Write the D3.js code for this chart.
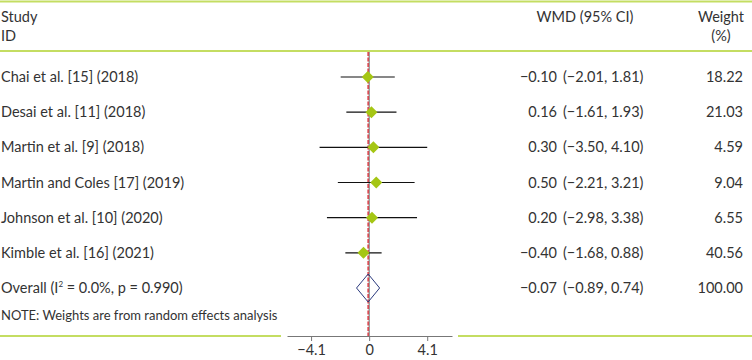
<!DOCTYPE html>
<html>
<head>
<meta charset="utf-8">
<script src="https://cdn.jsdelivr.net/npm/d3@7"></script>
<style>
  body { margin: 0; background: #fff; }
  text { font-family: Lato, "Noto Sans", sans-serif; fill: #333; }
</style>
</head>
<body>
<div id="chart"></div>
<script>
// forest plot data
const studies = [
  'Chai et al. [15] (2018)',
  'Desai et al. [11] (2018)',
  'Martin et al. [9] (2018)',
  'Martin and Coles [17] (2019)',
  'Johnson et al. [10] (2020)',
  'Kimble et al. [16] (2021)'
];
const wmd    = [-0.10, 0.16, 0.30, 0.50, 0.20, -0.40];
const lower  = [-2.01, -1.61, -3.50, -2.21, -2.98, -1.68];
const upper  = [ 1.81,  1.93,  4.10,  3.21,  3.38,  0.88];
const weights = [18.22, 21.03, 4.59, 9.04, 6.55, 40.56];
const overall = { wmd: -0.07, lower: -0.89, upper: 0.74, weight: 100.00 };
const ticks = [-4.1, 0, 4.1];

const width = 752, height = 360;
const green = '#c4dd62';

const svg = d3.select('#chart').append('svg')
    .attr('width', width).attr('height', height);

const x = d3.scaleLinear().domain([-5.8, 5.85]).range([287, 452]);
const y = d3.scalePoint().domain(d3.range(studies.length + 1)).range([77, 288]);
const axisY = 336;

// header lines
svg.append('line').attr('x1', 0).attr('x2', width).attr('y1', 1.5).attr('y2', 1.5)
  .attr('stroke', green).attr('stroke-width', 2);
svg.append('line').attr('x1', 0).attr('x2', width).attr('y1', 51).attr('y2', 51)
  .attr('stroke', green).attr('stroke-width', 2);
svg.append('line').attr('x1', 0).attr('x2', 281).attr('y1', axisY).attr('y2', axisY)
  .attr('stroke', green).attr('stroke-width', 2);
svg.append('line').attr('x1', 458).attr('x2', width).attr('y1', axisY).attr('y2', axisY)
  .attr('stroke', green).attr('stroke-width', 2);

// headers
const fs = 14.5;
svg.append('text').attr('x', 1).attr('y', 22).attr('font-size', fs).text('Study');
svg.append('text').attr('x', 1).attr('y', 41).attr('font-size', fs).text('ID');
svg.append('text').attr('x', 585).attr('y', 22).attr('font-size', fs)
  .attr('text-anchor', 'middle').text('WMD (95% CI)');
svg.append('text').attr('x', 721).attr('y', 22).attr('font-size', fs)
  .attr('text-anchor', 'middle').text('Weight');
svg.append('text').attr('x', 721).attr('y', 41).attr('font-size', fs)
  .attr('text-anchor', 'middle').text('(%)');

// null line and overall line
svg.append('line').attr('x1', x(0)).attr('x2', x(0)).attr('y1', 52).attr('y2', axisY)
  .attr('stroke', '#666').attr('stroke-width', 1);
svg.append('line').attr('x1', x(overall.wmd)).attr('x2', x(overall.wmd)).attr('y1', 52).attr('y2', axisY)
  .attr('stroke', '#d9474f').attr('stroke-width', 1.6).attr('stroke-dasharray', '4,1.5');

const fmt = d3.format('.2f');
const minus = s => s.replace(/-/g, '\u2212');

// study rows
const rows = svg.append('g').selectAll('g')
  .data(studies)
  .enter().append('g');

rows.append('text')
  .attr('x', 1).attr('y', (d, i) => y(i) + 5)
  .attr('font-size', fs).text(d => d);

rows.append('line')
  .attr('x1', (d, i) => x(lower[i])).attr('x2', (d, i) => x(upper[i]))
  .attr('y1', (d, i) => y(i)).attr('y2', (d, i) => y(i))
  .attr('stroke', '#111').attr('stroke-width', 1.2);

rows.append('path')
  .attr('d', (d, i) => {
    const cx = x(wmd[i]), cy = y(i), r = 6;
    return `M${cx - r},${cy}L${cx},${cy - r}L${cx + r},${cy}L${cx},${cy + r}Z`;
  })
  .attr('fill', '#a5c614');

rows.append('text')
  .attr('x', 557).attr('y', (d, i) => y(i) + 5)
  .attr('font-size', fs).attr('text-anchor', 'end')
  .text((d, i) => minus(fmt(wmd[i])));
rows.append('text')
  .attr('x', 563).attr('y', (d, i) => y(i) + 5)
  .attr('font-size', fs)
  .text((d, i) => minus(`(${fmt(lower[i])}, ${fmt(upper[i])})`));
rows.append('text')
  .attr('x', 743).attr('y', (d, i) => y(i) + 5)
  .attr('font-size', fs).attr('text-anchor', 'end')
  .text((d, i) => fmt(weights[i]));

// overall row
const oy = y(studies.length);
const ot = svg.append('text').attr('x', 1).attr('y', oy + 5).attr('font-size', fs);
ot.append('tspan').text('Overall (I');
ot.append('tspan').attr('font-size', 8).attr('dy', -6).text('2');
ot.append('tspan').attr('dy', 6).text(' = 0.0%, p = 0.990)');

svg.append('path')
  .attr('d', `M${x(overall.lower)},${oy}L${x(overall.wmd)},${oy - 14}L${x(overall.upper)},${oy}L${x(overall.wmd)},${oy + 14}Z`)
  .attr('fill', 'none').attr('stroke', '#2b3a7e').attr('stroke-width', 1);

svg.append('text').attr('x', 557).attr('y', oy + 5).attr('font-size', fs)
  .attr('text-anchor', 'end').text(minus(fmt(overall.wmd)));
svg.append('text').attr('x', 563).attr('y', oy + 5).attr('font-size', fs)
  .text(minus(`(${fmt(overall.lower)}, ${fmt(overall.upper)})`));
svg.append('text').attr('x', 743).attr('y', oy + 5).attr('font-size', fs)
  .attr('text-anchor', 'end').text(fmt(overall.weight));

svg.append('text').attr('x', 1).attr('y', 320).attr('font-size', 13)
  .text('NOTE: Weights are from random effects analysis');

// x axis
const axis = svg.append('g')
  .attr('transform', `translate(0,${axisY})`)
  .call(d3.axisBottom(x).tickValues(ticks).tickSize(5).tickSizeOuter(0).tickPadding(4)
    .tickFormat(d => d === 0 ? '0' : minus(String(d))));
axis.select('.domain').attr('stroke', '#777');
axis.selectAll('.tick line').attr('stroke', '#777');
axis.selectAll('.tick text').attr('font-size', fs).attr('fill', '#333')
  .style('font-family', 'Lato, "Noto Sans", sans-serif');
</script>
</body>
</html>
